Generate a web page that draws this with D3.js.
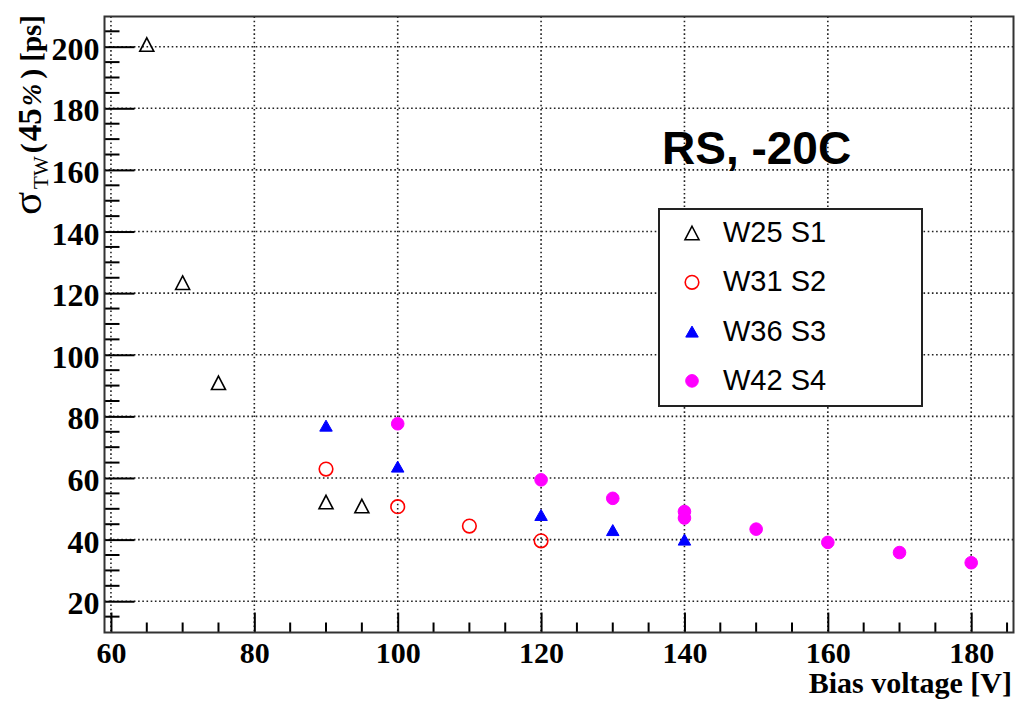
<!DOCTYPE html>
<html>
<head>
<meta charset="utf-8">
<script src="https://cdn.jsdelivr.net/npm/d3@7"></script>
<style>
  body { margin: 0; background: #fff; }
  svg { display: block; }
</style>
</head>
<body>
<div id="chart"></div>
<script>
// data
var seriesNames = ["W25 S1", "W31 S2", "W36 S3", "W42 S4"];
var s1X = [65, 70, 75, 90, 95],
    s1Y = [200.7, 123.4, 90.9, 52.2, 50.9];
var s2X = [90, 100, 110, 120],
    s2Y = [62.9, 50.7, 44.4, 39.6];
var s3X = [90, 100, 120, 130, 140],
    s3Y = [77.0, 63.7, 48.0, 43.1, 40.0];
var s4X = [100, 120, 130, 140, 140, 150, 160, 170, 180],
    s4Y = [77.6, 59.4, 53.4, 49.1, 47.0, 43.4, 39.1, 35.8, 32.5];
var xTicks = [60, 80, 100, 120, 140, 160, 180];
var yTicks = [20, 40, 60, 80, 100, 120, 140, 160, 180, 200];

var width = 1015, height = 704;
var frame = {left: 104.5, right: 1013.5, top: 16.5, bottom: 632.5};

var x = d3.scaleLinear().domain([59.1, 185.9]).range([frame.left, frame.right]);
var y = d3.scaleLinear().domain([9.85, 209.8]).range([frame.bottom, frame.top]);

var svg = d3.select("#chart").append("svg")
    .attr("width", width)
    .attr("height", height);

// grid (dotted)
var grid = svg.append("g").attr("class", "grid")
    .style("stroke", "#222")
    .style("stroke-width", 1.6)
    .style("stroke-dasharray", "1.6,2.6");
grid.selectAll("line.gx").data(xTicks).enter().append("line")
    .attr("class", "gx")
    .attr("x1", function(d) { return x(d); })
    .attr("x2", function(d) { return x(d); })
    .attr("y1", frame.top).attr("y2", frame.bottom);
grid.selectAll("line.gy").data(yTicks).enter().append("line")
    .attr("class", "gy")
    .attr("y1", function(d) { return y(d); })
    .attr("y2", function(d) { return y(d); })
    .attr("x1", frame.left).attr("x2", frame.right);

// minor ticks every 5
var xMinor = d3.range(60, 186, 5).filter(function(d) { return d % 20 != 0; });
var yMinor = d3.range(15, 210, 5).filter(function(d) { return d % 20 != 0; });

var xAxis = d3.axisBottom(x).tickValues(xTicks).tickSize(0).tickPadding(0);
var gx = svg.append("g")
    .attr("transform", "translate(0," + frame.bottom + ")")
    .call(xAxis);
gx.select(".domain").remove();
gx.selectAll(".tick text")
    .attr("y", 30.5)
    .attr("dy", null)
    .style("font-family", "'Liberation Serif', 'DejaVu Serif', serif")
    .style("font-weight", "bold")
    .style("font-size", "30px")
    .style("fill", "#000");
gx.selectAll(".tick").append("line")
    .attr("y1", 0).attr("y2", -20)
    .style("stroke", "#000").style("stroke-width", 2);
gx.selectAll("line.minor").data(xMinor).enter().append("line")
    .attr("class", "minor")
    .attr("x1", function(d) { return x(d); })
    .attr("x2", function(d) { return x(d); })
    .attr("y1", 0).attr("y2", -10)
    .style("stroke", "#000").style("stroke-width", 2);

var yAxis = d3.axisLeft(y).tickValues(yTicks).tickSize(0).tickPadding(5);
var gy = svg.append("g")
    .attr("transform", "translate(" + frame.left + ",0)")
    .call(yAxis);
gy.select(".domain").remove();
gy.selectAll(".tick text")
    .attr("dy", "0.39em")
    .style("font-family", "'Liberation Serif', 'DejaVu Serif', serif")
    .style("font-weight", "bold")
    .style("font-size", "32px")
    .style("fill", "#000");
gy.selectAll(".tick").append("line")
    .attr("x1", 0).attr("x2", 30)
    .style("stroke", "#000").style("stroke-width", 2);
gy.selectAll("line.minor").data(yMinor).enter().append("line")
    .attr("class", "minor")
    .attr("y1", function(d) { return y(d); })
    .attr("y2", function(d) { return y(d); })
    .attr("x1", 0).attr("x2", 15)
    .style("stroke", "#000").style("stroke-width", 2);

// frame
svg.append("rect")
    .attr("x", frame.left).attr("y", frame.top)
    .attr("width", frame.right - frame.left)
    .attr("height", frame.bottom - frame.top)
    .style("fill", "none")
    .style("stroke", "#333")
    .style("stroke-width", 2);

// axis titles
svg.append("text")
    .attr("x", 1012).attr("y", 693)
    .attr("text-anchor", "end")
    .style("font-family", "'Liberation Serif', serif")
    .style("font-weight", "bold")
    .style("font-size", "30px")
    .text("Bias voltage [V]");

// rotated y title: sigma_TW(45%) [ps]
var yt = svg.append("text")
    .attr("transform", "translate(41,15) rotate(-90)")
    .attr("text-anchor", "end")
    .style("font-family", "'Liberation Serif', serif")
    .style("font-size", "30px");
yt.append("tspan").style("font-size", "43px").text("σ");
yt.append("tspan").attr("dy", 7).attr("dx", 3).style("font-size", "21px").text("TW");
yt.append("tspan").attr("dy", -7).attr("dx", 3).style("font-weight", "bold").text("(");
yt.append("tspan").attr("dx", 2).style("font-weight", "bold").style("font-size", "33px").text("45");
yt.append("tspan").attr("dx", 2).style("font-weight", "bold").style("font-size", "27px").style("font-style", "italic").text("%");
yt.append("tspan").attr("dx", 5).style("font-weight", "bold").text(")");
yt.append("tspan").attr("dx", 7).style("font-weight", "bold").style("font-size", "29px").text("[ps]");

// annotation
svg.append("text")
    .attr("x", 662).attr("y", 164)
    .style("font-family", "'Liberation Sans', Arial, sans-serif")
    .style("font-weight", "bold")
    .style("font-size", "46px")
    .text("RS, -20C");

// markers
function triPath(w, h) {
  return "M0," + (-h / 2) + "L" + (w / 2) + "," + (h / 2) + "L" + (-w / 2) + "," + (h / 2) + "Z";
}
var markerStyles = [
  {shape: "tri", w: 14, h: 13.5, fill: "none", stroke: "#000"},
  {shape: "circ", r: 6.8, fill: "none", stroke: "#f00"},
  {shape: "tri", w: 12.5, h: 11, fill: "#00f", stroke: "#00f"},
  {shape: "circ", r: 6.3, fill: "#f0f", stroke: "#f0f"}
];
var allX = [s1X, s2X, s3X, s4X], allY = [s1Y, s2Y, s3Y, s4Y];

function drawMarker(sel, m) {
  if (m.shape == "tri") {
    sel.append("path").attr("d", triPath(m.w, m.h));
  } else {
    sel.append("circle").attr("r", m.r);
  }
  sel.selectAll("path,circle")
      .style("fill", m.fill)
      .style("stroke", m.stroke)
      .style("stroke-width", m.fill == "none" ? 1.6 : 1);
}

allX.forEach(function(xs, i) {
  var pts = xs.map(function(v, j) { return [v, allY[i][j]]; });
  svg.append("g").attr("class", "series" + i)
    .selectAll("g").data(pts).enter().append("g")
      .attr("transform", function(d) { return "translate(" + x(d[0]) + "," + y(d[1]) + ")"; })
      .each(function() { drawMarker(d3.select(this), markerStyles[i]); });
});

// legend
var leg = svg.append("g").attr("class", "legend");
leg.append("rect")
    .attr("x", 659).attr("y", 209)
    .attr("width", 263).attr("height", 197)
    .style("fill", "#fff")
    .style("stroke", "#222")
    .style("stroke-width", 2);
var rows = leg.selectAll("g.row").data(seriesNames).enter().append("g")
    .attr("class", "row")
    .attr("transform", function(d, i) { return "translate(692," + (233 + i * 49.3) + ")"; });
rows.each(function(d, i) { drawMarker(d3.select(this), markerStyles[i]); });
rows.append("text")
    .attr("x", 31).attr("y", 9)
    .style("font-family", "'Liberation Sans', Arial, sans-serif")
    .style("font-size", "29px")
    .text(function(d) { return d; });
</script>
</body>
</html>
